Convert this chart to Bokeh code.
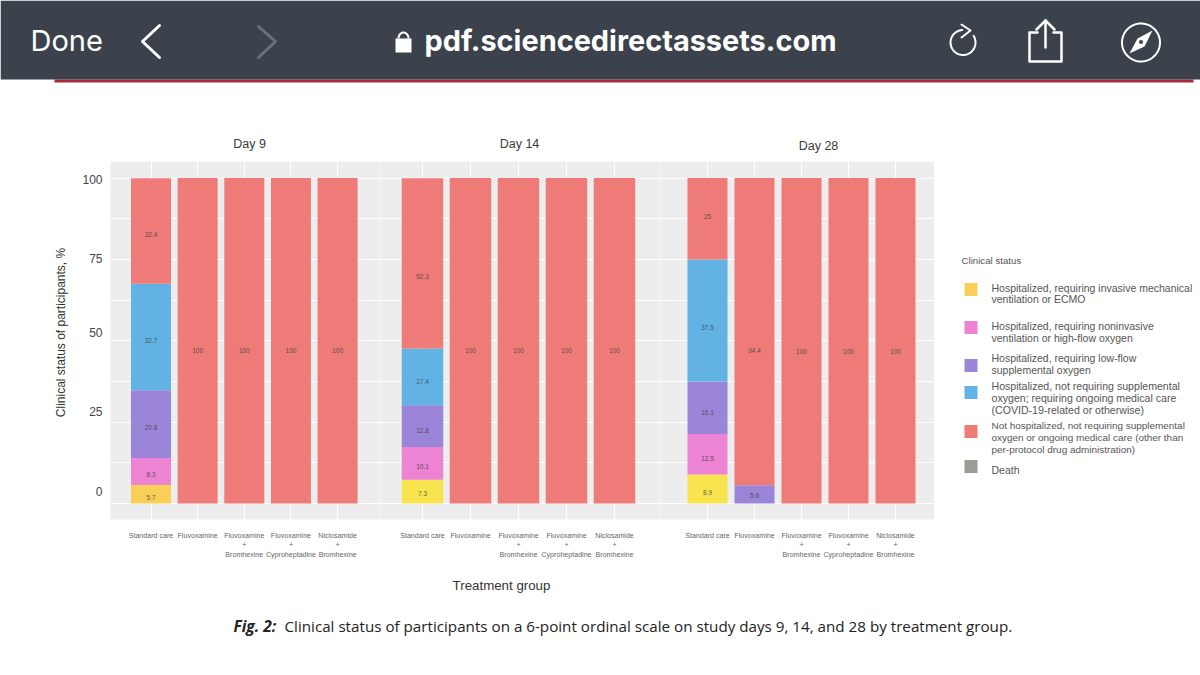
import math
import numpy as np
from bokeh.embed import file_html
from bokeh.resources import INLINE
from bokeh.plotting import figure
from bokeh.layouts import column, row
from bokeh.models import ColumnDataSource, FixedTicker, Range1d
from bokeh.core.properties import value

# ---------- chart data ----------
groups = ["Standard care", "Fluvoxamine", "Fluvoxamine\n+\nBromhexine",
          "Fluvoxamine\n+\nCyproheptadine", "Niclosamide\n+\nBromhexine"]
y_ticks = [100, 75, 50, 25, 0]
y_tick_positions = [99.4, 75.2, 52.4, 28.2, 3.7]   # the reference's labels sit off its grid
grid_values = [0, 12.5, 25, 37.5, 50, 62.5, 75, 87.5, 100]

# stack order: ventilation, noninvasive, low-flow, no oxygen, not hospitalized
day9_values = [[5.7, 8.3, 20.8, 32.7, 32.4], [0, 0, 0, 0, 100], [0, 0, 0, 0, 100],
               [0, 0, 0, 0, 100], [0, 0, 0, 0, 100]]
day14_values = [[7.3, 10.1, 12.8, 17.4, 52.3], [0, 0, 0, 0, 100], [0, 0, 0, 0, 100],
                [0, 0, 0, 0, 100], [0, 0, 0, 0, 100]]
day28_values = [[8.9, 12.5, 16.1, 37.5, 25], [0, 0, 5.6, 0, 94.4], [0, 0, 0, 0, 100],
                [0, 0, 0, 0, 100], [0, 0, 0, 0, 100]]

# pixel nudge of each printed value from its segment's middle (same shape as the values)
day9_dy = [[3, 3, 3, 3.5, 3], [0, 0, 0, 0, 10], [0, 0, 0, 0, 10], [0, 0, 0, 0, 10], [0, 0, 0, 0, 10]]
day14_dy = [[2, 3.5, 4.5, 4.5, 13.5], [0, 0, 0, 0, 10], [0, 0, 0, 0, 10], [0, 0, 0, 0, 10], [0, 0, 0, 0, 10]]
day28_dy = [[3.5, 4.5, 5, 7, -2], [0, 0, 1, 0, 19], [0, 0, 0, 0, 11], [0, 0, 0, 0, 11], [0, 0, 0, 0, 11]]

legend_title = "Clinical status"
legend_lines = [
    ["Hospitalized, requiring invasive mechanical", "ventilation or ECMO"],
    ["Hospitalized, requiring noninvasive", "ventilation or high-flow oxygen"],
    ["Hospitalized, requiring low-flow", "supplemental oxygen"],
    ["Hospitalized, not requiring supplemental", "oxygen; requiring ongoing medical care", "(COVID-19-related or otherwise)"],
    ["Not hospitalized, not requiring supplemental", "oxygen or ongoing medical care (other than", "per-protocol drug administration)"],
    ["Death"],
]
legend_colors = ["#F9CF58", "#EC83D3", "#9A85D8", "#62B2E3", "#EF7B78", "#9C9B98"]
day9_colors = ["#F9CF58", "#EC83D3", "#9A85D8", "#62B2E3", "#EF7B78"]
later_colors = ["#F8E44E", "#EC83D3", "#9A85D8", "#62B2E3", "#EF7B78"]

FONT = "Liberation Sans"
BG = "#EDEDED"
TOTAL_W = 1200
TOP_H, ROW_H, BOT_H = 161, 409, 105
FRAME_H = 358
GUTTER = 70
Y_START, Y_END = -4.9, 105.07


def chrome_fig(w, h, x0, y0, frame_h=None):
    f = figure(width=w, height=h, x_range=Range1d(x0, x0 + w), y_range=Range1d(y0 + (frame_h or h), y0),
               output_backend="svg", toolbar_location=None, min_border=0,
               outline_line_color=None, background_fill_color="white", border_fill_color="white")
    f.axis.visible = False
    f.grid.visible = False
    if frame_h:
        f.min_border_bottom = h - frame_h
    return f


def panel(values, dys, colors, width, left_border, start, unit, bar_w):
    f = figure(width=width + left_border, height=ROW_H,
               x_range=Range1d(start, start + width / unit), y_range=Range1d(Y_START, Y_END),
               output_backend="svg", toolbar_location=None,
               min_border_left=left_border, min_border_right=0, min_border_top=0,
               min_border_bottom=ROW_H - FRAME_H, outline_line_color=None,
               background_fill_color=BG, border_fill_color="white")
    positions = list(range(1, len(groups) + 1))
    bottoms, tops, xs, cols, tx, ty, tt, tdy = [], [], [], [], [], [], [], []
    for pos, stack, dy in zip(positions, values, dys):
        cum = 0.0
        for v, c, d in zip(stack, colors, dy):
            if v > 0:
                xs.append(pos); bottoms.append(cum); tops.append(cum + v); cols.append(c)
                tx.append(pos); ty.append(cum + v / 2); tt.append(f"{v:g}"); tdy.append(d)
            cum += v
    f.vbar(x="x", bottom="b", top="t", width=bar_w, fill_color="c", line_color=None,
           source=ColumnDataSource(dict(x=xs, b=bottoms, t=tops, c=cols)))
    f.text(x="x", y="y", text="t", y_offset="d", text_font=value(FONT), text_font_size="6.5px",
           text_color="#3A3A3A", text_alpha=0.8, text_align="center", text_baseline="middle",
           source=ColumnDataSource(dict(x=tx, y=ty, t=tt, d=tdy)))
    f.xaxis.ticker = FixedTicker(ticks=positions)
    f.xaxis.major_label_overrides = {k: g for k, g in zip(positions, groups)}
    f.xaxis.major_label_text_font = FONT
    f.xaxis.major_label_text_font_size = "7.1px"
    f.xaxis.major_label_text_color = "#666666"
    f.xaxis.major_label_standoff = 6
    f.xaxis.major_tick_line_color = None
    f.xaxis.minor_tick_line_color = None
    f.xaxis.axis_line_color = None
    f.xaxis.major_label_orientation = "horizontal"
    f.xgrid.ticker = FixedTicker(ticks=positions)
    f.xgrid.grid_line_color = "white"
    f.xgrid.grid_line_width = 1
    f.ygrid.ticker = FixedTicker(ticks=grid_values)
    f.ygrid.grid_line_color = "white"
    f.ygrid.grid_line_width = 1
    if left_border:
        f.yaxis.ticker = FixedTicker(ticks=y_tick_positions)
        f.yaxis.major_label_overrides = {k: str(t) for k, t in zip(y_tick_positions, y_ticks)}
        f.yaxis.major_label_text_font = FONT
        f.yaxis.major_label_text_font_size = "12px"
        f.yaxis.major_label_text_color = "#444444"
        f.yaxis.major_label_standoff = 2
        f.yaxis.major_tick_line_color = None
        f.yaxis.minor_tick_line_color = None
        f.yaxis.axis_line_color = None
    else:
        f.yaxis.visible = False
    return f


p1 = panel(day9_values, day9_dy, day9_colors, 270, 110 - GUTTER, 1 - 40.5 / 46.65, 46.65, 40 / 46.65)
p2 = panel(day14_values, day14_dy, later_colors, 280, 0, 1 - 42 / 48, 48, 41.5 / 48)
p3 = panel(day28_values, day28_dy, later_colors, 274, 0, 1 - 47 / 47, 47, 40 / 47)

# ---------- y-axis title, in its own gutter ----------
gut = chrome_fig(GUTTER, ROW_H, 0, 161, frame_h=FRAME_H)
gut.text(x=[60], y=[332], text=["Clinical status of participants, %"], angle=math.pi / 2,
         text_font=value(FONT), text_font_size="12px", text_color="#333333",
         text_align="center", text_baseline="middle")

# ---------- legend ----------
lg = chrome_fig(TOTAL_W - 934, ROW_H, 934, 161, frame_h=FRAME_H)
swatch_y = [289, 327, 365, 392, 431, 466]
line_y = [[287, 298], [325, 337], [357, 369], [385, 397, 409], [425, 437, 449], [469]]
legend_font_px = ["10.5px", "10.5px", "10.5px", "10.6px", "9.95px", "10.5px"]
lg.rect(x=[970.5] * 6, y=swatch_y, width=13, height=13, fill_color=legend_colors, line_color=None)
for lines, ys, fs in zip(legend_lines, line_y, legend_font_px):
    lg.text(x=[991] * len(lines), y=ys, text=lines, text_font=value(FONT), text_font_size=fs,
            text_color="#555555", text_baseline="middle")
lg.text(x=[961], y=[260], text=[legend_title], text_font=value(FONT), text_font_size="9.7px",
        text_color="#555555", text_baseline="middle")

# ---------- top: browser bar and panel titles ----------
top = chrome_fig(TOTAL_W, TOP_H, 0, 0)
top.quad(left=[54], right=[1193], top=[79], bottom=[82], fill_color="#A52A3D", line_color=None)
top.quad(left=[0], right=[1200], top=[0], bottom=[79], fill_color="#3B424B", line_color=None)
top.text(x=[30], y=[40], text=["Done"], text_font=value("Inter"), text_font_size="29px",
         text_color="white", text_baseline="middle")
top.text(x=[424], y=[40], text=["pdf.sciencedirectassets.com"], text_font=value("Inter"),
         text_font_size="28.9px", text_font_style="bold", text_color="white", text_baseline="middle")
W = "white"
top.line([159, 142, 159], [25, 41, 57], line_color=W, line_width=3, line_cap="round", line_join="round")
top.line([258, 275, 258], [26, 41, 57], line_color="#6B7177", line_width=3, line_cap="round", line_join="round")
# lock
top.quad(left=[395], right=[411], top=[38], bottom=[52], fill_color=W, line_color=None)
th = np.linspace(math.pi, 2 * math.pi, 20)
top.line(403 + 5 * np.cos(th), 38 + 6 * np.sin(th), line_color=W, line_width=2)
# reload
th = np.radians(np.linspace(-90, -395, 60))
top.line(962.5 + 12.5 * np.cos(th), 42 + 12.5 * np.sin(th), line_color=W, line_width=2)
top.line([961, 970, 961], [24, 30, 37], line_color=W, line_width=2, line_join="round", line_cap="round")
# share
top.line([1037, 1029, 1029, 1061, 1061, 1053], [32, 32, 61, 61, 32, 32], line_color=W, line_width=2.5,
         line_join="round", line_cap="round")
top.line([1045, 1045], [20, 47], line_color=W, line_width=2.5, line_cap="round")
top.line([1036, 1045, 1054], [29, 20, 29], line_color=W, line_width=2.5, line_cap="round", line_join="round")
# compass
th = np.linspace(0, 2 * math.pi, 80)
top.line(1140.5 + 19 * np.cos(th), 42 + 19 * np.sin(th), line_color=W, line_width=2)
top.patch([1152, 1144, 1129, 1137], [30, 46, 53, 38], fill_color=W, line_color=None)
top.scatter([1140.5], [41.5], size=4, fill_color="#3B424B", line_color=None)
# panel titles
top.text(x=[249, 519, 818], y=[143, 143, 145], text=["Day 9", "Day 14", "Day 28"],
         text_font=value(FONT), text_font_size="12.5px", text_color="#3A3A3A",
         text_align="center", text_baseline="middle")

# ---------- x-axis title and caption ----------
bot = chrome_fig(TOTAL_W, BOT_H, 0, 570)
bot.text(x=[501], y=[585], text=["Treatment group"], text_font=value(FONT), text_font_size="13.3px",
         text_color="#333333", text_align="center", text_baseline="middle")
bot.text(x=[233], y=[625], text=["Fig. 2:"], text_font=value("Open Sans"), text_font_size="15.5px",
         text_font_style="bold italic", text_color="#222222", text_baseline="middle")
bot.text(x=[284], y=[625], text=["Clinical status of participants on a 6-point ordinal scale on study days 9, 14, and 28 by treatment group."],
         text_font=value("Open Sans"), text_font_size="15.2px", text_color="#222222", text_baseline="middle")

p = column(top, row(gut, p1, p2, p3, lg, spacing=0), bot, spacing=0)
p.stylesheets = [":host{position:absolute;left:0;top:0;}"]

open("out.html", "w").write(file_html(p, INLINE))
